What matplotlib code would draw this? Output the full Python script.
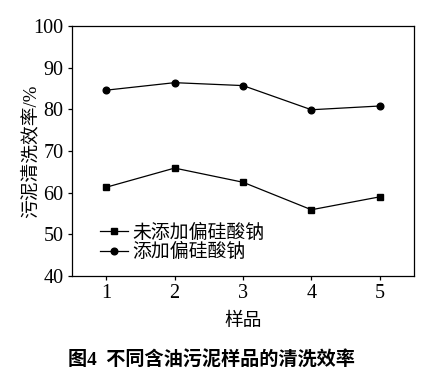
import matplotlib.pyplot as plt

plt.rcParams['font.family'] = ['Liberation Serif', 'Noto Sans CJK SC']

# sample index and cleaning efficiency (%)
samples = [1, 2, 3, 4, 5]
no_silicate = [61.3, 65.9, 62.5, 55.9, 59.0]
with_silicate = [84.6, 86.4, 85.7, 79.9, 80.8]
labels = ['未添加偏硅酸钠', '添加偏硅酸钠']

fig = plt.figure(figsize=(4.35, 3.8), dpi=100)
ax = fig.add_axes([72 / 435, 104 / 380, 342 / 435, 250 / 380])

ax.plot(samples, no_silicate, '-s', color='black', lw=0.9, ms=4.2, label=labels[0])
ax.plot(samples, with_silicate, '-o', color='black', lw=0.9, ms=4.8, label=labels[1])

ax.set_xlim(0.5, 5.5)
ax.set_ylim(40, 100)
ax.set_xticks(samples)
ax.set_yticks(range(40, 101, 10))
ax.tick_params(direction='out', length=3, width=0.9, labelsize=14.5, pad=3)
for s in ax.spines.values():
    s.set_linewidth(0.9)

ax.set_xlabel('样品', fontsize=13.5, labelpad=7)
ax.set_ylabel('污泥清洗效率/%', fontsize=13.5)
ax.yaxis.set_label_coords(-0.095, 0.5)

ax.legend(loc='upper left', bbox_to_anchor=(100 / 435, 1 - 224 / 380),
          bbox_transform=fig.transFigure, frameon=False, fontsize=13.6,
          handlelength=1.5, handletextpad=0.2, labelspacing=0.05, borderpad=0,
          borderaxespad=0)

fig.text(0.485, 1 - 360 / 380, '图4  不同含油污泥样品的清洗效率', ha='center', va='center',
         fontsize=13.8, fontweight='bold')

fig.savefig('out.png', dpi=100)
